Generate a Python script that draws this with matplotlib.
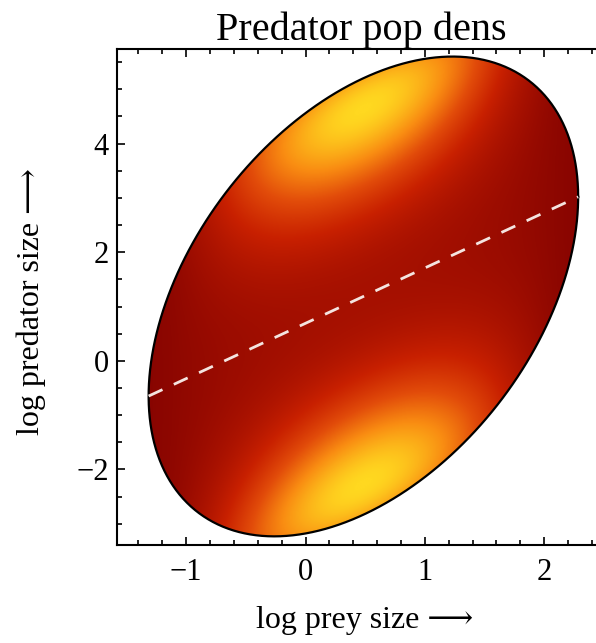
import numpy as np
import matplotlib
matplotlib.use("Agg")
import matplotlib.pyplot as plt
from matplotlib.colors import LinearSegmentedColormap
from matplotlib.patches import Polygon
from matplotlib.ticker import MultipleLocator

# ellipse of the joint (prey, predator) distribution
center = (0.485, 1.185)
cov_xx, cov_xy, cov_yy = 3.24, 3.3, 19.5

# density levels (fraction of the colour scale)
level_center = 0.18     # on the dashed line, middle of the ellipse
level_side = 0.05       # at the left / right tip
spot_pos = 0.86         # bright spots: distance from the line, in half-widths
spot_rise = 2.2         # how fast the colour rises towards the spots
spot_fall = 6.0         # how fast it falls again towards the outline
spot_spread = 2.2       # narrowing of the spots along the outline

xlim = (-1.58, 2.51)
ylim = (-3.39, 5.74)
xticks = [-1, 0, 1, 2]
yticks = [-2, 0, 2, 4]

title = "Predator pop dens"
xlabel = "log prey size \u27f6"
ylabel = "log predator size \u27f6"

cmap = LinearSegmentedColormap.from_list("pred", [
    (0.00, "#7c0000"), (0.15, "#a00e00"), (0.35, "#c82000"),
    (0.55, "#e24c0a"), (0.75, "#f98c12"), (1.00, "#ffd820")])

plt.rcParams['font.family'] = ['Liberation Serif', 'DejaVu Serif', 'DejaVu Sans']

fig = plt.figure(figsize=(5.96, 6.43), dpi=100)
ax = fig.add_axes([117 / 596, 1 - 545 / 643, (605 - 117) / 596, (545 - 49) / 643])

cx, cy = center
sx = np.sqrt(cov_xx)
slope = cov_xy / cov_xx
cond_sd = np.sqrt(cov_yy - cov_xy ** 2 / cov_xx)

# density field in normalised ellipse coordinates
gx = np.linspace(xlim[0], xlim[1], 700)
gy = np.linspace(ylim[0], ylim[1], 900)
X, Y = np.meshgrid(gx, gy)
z1 = np.clip((X - cx) / sx, -1, 1)
z2 = np.clip((Y - (cy + slope * (X - cx))) / cond_sd, -1, 1)
u = np.abs(z2) / spot_pos
bump = u ** spot_rise * np.exp(spot_rise / spot_fall * (1 - u ** spot_fall))
base = level_side + (level_center - level_side) * (1 - z1 ** 2)
f = base + (1 - level_center) * bump * (1 - z1 ** 2) ** spot_spread

im = ax.imshow(f, extent=(gx[0], gx[-1], gy[0], gy[-1]), origin="lower",
               cmap=cmap, vmin=0, vmax=1, aspect="auto",
               interpolation="bilinear")

# ellipse outline
L = np.linalg.cholesky(np.array([[cov_xx, cov_xy], [cov_xy, cov_yy]]))
th = np.linspace(0, 2 * np.pi, 400)
pts = (L @ np.vstack([np.cos(th), np.sin(th)])).T + np.array(center)
clip = Polygon(pts, closed=True, transform=ax.transData, facecolor="none")
im.set_clip_path(clip)
ax.plot(pts[:, 0], pts[:, 1], color="black", lw=1.6)

# regression line of predator on prey size
lx = np.array([cx - sx, cx + sx])
ax.plot(lx, cy + slope * (lx - cx), color="#f4e4e0", lw=2.0, dashes=(5.5, 4.5))

ax.set_xlim(xlim)
ax.set_ylim(ylim)
ax.set_xticks(xticks)
ax.set_yticks(yticks)
ax.set_xticklabels(["\u22121", "0", "1", "2"])
ax.set_yticklabels(["\u22122", "0", "2", "4"])
ax.xaxis.set_minor_locator(MultipleLocator(0.2))
ax.yaxis.set_minor_locator(MultipleLocator(0.5))
ax.tick_params(which="both", direction="in", top=True, right=True, labelsize=22, width=1.2)
ax.tick_params(which="major", length=6)
ax.tick_params(which="minor", length=3.5)
ax.tick_params(axis="x", pad=9)
ax.tick_params(axis="y", pad=6)
for s in ax.spines.values():
    s.set_linewidth(1.5)

ax.set_title(title, fontsize=29, pad=3)
ax.set_xlabel(xlabel, fontsize=23)
ax.set_ylabel(ylabel, fontsize=23)
ax.xaxis.set_label_coords(0.508, -0.122)
ax.yaxis.set_label_coords(-0.146, 0.49)

fig.savefig("out.png", dpi=100)
